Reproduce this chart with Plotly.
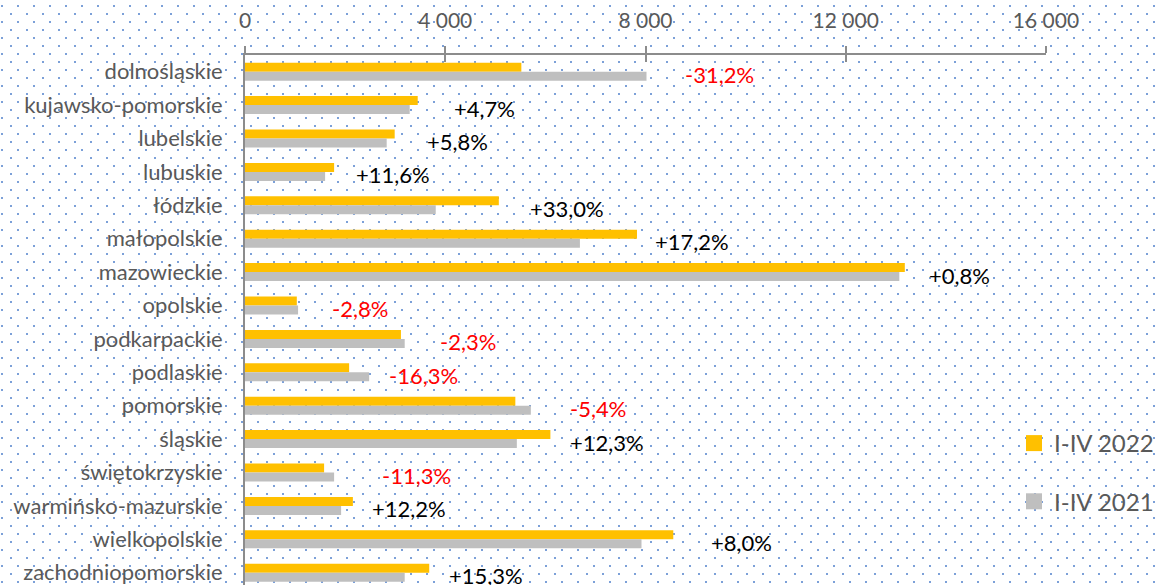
import base64
import plotly.graph_objects as go

# ---- data ----
categories = ["dolnośląskie", "kujawsko-pomorskie", "lubelskie", "lubuskie", "łódzkie",
              "małopolskie", "mazowieckie", "opolskie", "podkarpackie", "podlaskie",
              "pomorskie", "śląskie", "świętokrzyskie", "warmińsko-mazurskie",
              "wielkopolskie", "zachodniopomorskie"]
values_2022 = [5520, 3450, 2990, 1780, 5070, 7830, 13180, 1035, 3115, 2080,
               5400, 6100, 1580, 2155, 8555, 3680]
values_2021 = [8020, 3290, 2830, 1600, 3810, 6690, 13070, 1060, 3190, 2480,
               5710, 5430, 1780, 1920, 7920, 3190]
change_labels = ["-31,2%", "+4,7%", "+5,8%", "+11,6%", "+33,0%", "+17,2%", "+0,8%",
                 "-2,8%", "-2,3%", "-16,3%", "-5,4%", "+12,3%", "-11,3%", "+12,2%",
                 "+8,0%", "+15,3%"]
series_names = ["I-IV 2022", "I-IV 2021"]
series_colors = ["#FFC000", "#BFBFBF"]
tick_values = [0, 4000, 8000, 12000, 16000]

# ---- style / layout settings ----
W, H = 1161, 585
ML, MR, MT, MB = 245, 115, 55, 0
label_xshift = [36, 34, 30, 20, 29, 16, 22, 32, 33, 18, 37, 18, 46, 17, 36, 18]
FONT = "Lato"
GREY_TXT = "#595959"
AXIS_COL = "#8c8c8c"

fig = go.Figure()
for vals, name, col in zip([values_2022, values_2021], series_names, series_colors):
    fig.add_trace(go.Bar(y=categories, x=vals, orientation="h", name=name,
                         marker=dict(color=col, line=dict(width=0)), showlegend=False))

# legend entries (square swatches)
for i, (name, col) in enumerate(zip(series_names, series_colors)):
    fig.add_trace(go.Scatter(x=[None], y=[None], mode="markers", name=name,
                             marker=dict(symbol="square", size=16, color=col),
                             legendgroup=f"g{i}", hoverinfo="skip"))

# percentage labels
for cat, a, b, txt, dx in zip(categories, values_2022, values_2021, change_labels, label_xshift):
    fig.add_annotation(x=max(a, b), y=cat, text=txt, showarrow=False,
                       xanchor="left", yanchor="middle", xshift=dx, yshift=-3,
                       font=dict(family=FONT, size=22,
                                 color="#FF0000" if txt.startswith("-") else "#000000"))

# dotted background pattern covering the page
svg = (f"<svg xmlns='http://www.w3.org/2000/svg' width='{W}' height='{H}' viewBox='0 0 {W} {H}'>"
       "<defs><pattern id='p' width='16' height='16' patternUnits='userSpaceOnUse'>"
       "<rect x='1' y='5' width='2' height='2' fill='#7ca0d8'/>"
       "<rect x='10' y='13' width='2' height='2' fill='#7ca0d8'/>"
       "</pattern></defs><rect width='100%' height='100%' fill='url(#p)'/></svg>")
src = "data:image/svg+xml;base64," + base64.b64encode(svg.encode()).decode()
pw, ph = W - ML - MR, H - MT - MB
fig.add_layout_image(source=src, xref="paper", yref="paper",
                     x=-ML / pw, y=1 + MT / ph, sizex=W / pw, sizey=H / ph,
                     xanchor="left", yanchor="top", sizing="stretch", layer="below")

row_px = 33.4
bottom = -0.5 + ph / row_px

fig.update_layout(
    width=W, height=H,
    margin=dict(l=ML, r=MR, t=MT, b=MB, autoexpand=False),
    paper_bgcolor="white", plot_bgcolor="rgba(0,0,0,0)",
    barmode="group", bargap=0.46, bargroupgap=0.0,
    separators=", ",
    font=dict(family=FONT, color=GREY_TXT),
    showlegend=True,
    legend=dict(x=(1014 - ML) / pw, xanchor="left", y=1 - (421 - MT) / ph, yanchor="top",
                font=dict(family=FONT, size=24, color=GREY_TXT),
                bgcolor="rgba(0,0,0,0)", tracegroupgap=24, traceorder="grouped",
                itemsizing="trace"),
    xaxis=dict(side="top", range=[0, 16000], tickvals=tick_values, tickformat=",d",
               showgrid=False, zeroline=False, showline=True, linecolor=AXIS_COL, linewidth=2,
               ticks="outside", ticklen=7, tickwidth=2, tickcolor=AXIS_COL,
               ticklabelstandoff=10,
               tickfont=dict(family=FONT, size=21, color=GREY_TXT)),
    xaxis2=dict(overlaying="x", side="top", range=[0, 16000], tickvals=tick_values,
                showticklabels=False, showgrid=False, zeroline=False, showline=False,
                ticks="inside", ticklen=7, tickwidth=2, tickcolor=AXIS_COL),
    yaxis=dict(categoryorder="array", categoryarray=categories, range=[bottom, -0.5],
               showgrid=False, zeroline=False, showline=True, linecolor=AXIS_COL, linewidth=2,
               ticks="", ticklabelstandoff=16,
               tickfont=dict(family=FONT, size=22, color=GREY_TXT)),
)
# invisible trace to activate xaxis2
fig.add_trace(go.Scatter(x=[0], y=[categories[0]], xaxis="x2", mode="markers",
                         marker=dict(opacity=0), showlegend=False, hoverinfo="skip"))

fig.write_html("out.html", config={"displayModeBar": False},
               post_script="document.body.style.margin='0';")
